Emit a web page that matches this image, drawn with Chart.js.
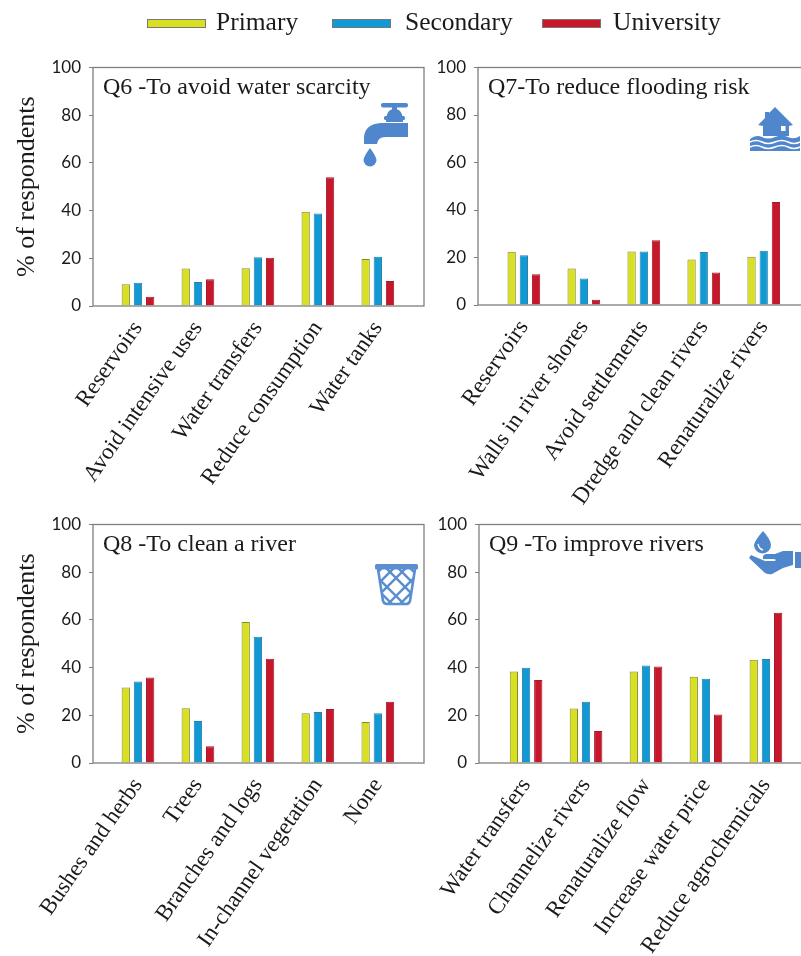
<!DOCTYPE html>
<html>
<head>
<meta charset="utf-8">
<title>Survey responses</title>
<script src="https://cdn.jsdelivr.net/npm/chart.js@4"></script>
<style>
    html, body { margin: 0; padding: 0; background: #fff; width: 801px; height: 956px; overflow: hidden; }
    canvas { position: absolute; }
    #icons { position: absolute; left: 0; top: 0; }
    .legend-swatch { position: absolute; top: 19px; width: 57px; height: 7px; box-sizing: content-box; border: 0.5px solid #777; }
    .legend-text { position: absolute; top: 7px; font: 25.5px "Liberation Serif", serif; color: #1a1a1a; line-height: 30px; white-space: nowrap; }
</style>
</head>
<body>
<canvas id="q6"></canvas>
<canvas id="q7"></canvas>
<canvas id="q8"></canvas>
<canvas id="q9"></canvas>

<svg id="icons" width="801" height="956" viewBox="0 0 801 956">
    <g fill="#4f86cc">
        <!-- tap -->
        <rect x="381" y="103" width="27" height="4.5" rx="2"/>
        <rect x="392" y="103" width="5" height="9"/>
        <path d="M386 122 Q386 109 394.500 109 Q403 109 403 122 Z"/>
        <rect x="384" y="116" width="21" height="4" rx="1.500"/>
        <path d="M408 123 L408 137 L386 137 Q378 137 377 144 L364 144 L364 137 Q365 124 381 123 Z"/>
        <path d="M370 148 Q376 156 376.500 160 A6.500 6.500 0 0 1 363.500 160 Q364 156 370 148 Z"/>
        <!-- flooded house -->
        <path d="M775 107 L793 125 L789 126 L789 136 L763 136 L763 126 L758 125 L765 118 L765 112 L769 112 L769 113 Z"/>
        <path d="M750 139 Q756 134 762 137 T775 137 T788 137 T800 136 L800 151 L750 151 Z"/>
    </g>
    <g fill="none" stroke="#fff" stroke-width="1.400">
        <path d="M750 142 Q756 139 762 142 T775 142 T788 142 T800 142"/>
        <path d="M750 147 Q756 144 762 147 T775 147 T788 147 T800 147"/>
    </g>
    <g fill="#4f86cc">
        <!-- hand with drop -->
        <path d="M763 531 Q771 540 771 545 A8.500 8.500 0 0 1 754 545 Q755 540 763 531 Z"/>
        <path d="M749 558 L751 555 L765 561 L775 561 Q777 559 773 559 L763 559 Q762 555 766 554 L775 554 L783 551 L793 551 L793 565 L783 568 L772 574 Q769 575 765 573 Z"/>
        <rect x="795" y="552" width="6" height="16"/>
    </g>
    <rect x="781" y="126" width="4.500" height="5" fill="#fff"/>
    <path d="M758 544 Q759 549 763 550" fill="none" stroke="#fff" stroke-width="1.300"/>
    <!-- waste basket -->
    <clipPath id="binClip"><path d="M378 569 L415 569 L410 603 L383 603 Z"/></clipPath>
    <rect x="375" y="564" width="43" height="5.500" rx="1.500" fill="#5b8fd0"/>
    <g fill="none" stroke="#5b8fd0">
        <path d="M378 569 L383 601 Q384 604 387 604 L406 604 Q409 604 410 601 L415 569" stroke-width="2.600"/>
        <g clip-path="url(#binClip)" stroke-width="2.400">
            <path d="M372 578 L384 566 M372 590 L396 566 M376 598 L408 566 M386 606 L420 572 M398 606 L420 584"/>
            <path d="M420 578 L408 566 M420 590 L396 566 M416 598 L384 566 M406 606 L372 572 M394 606 L372 584"/>
        </g>
    </g>
</svg>

<script>
// series shared by all panels
const seriesNames = ['Primary', 'Secondary', 'University'];
const seriesColors = ['#d8e021', '#0f9ad6', '#c8172b'];
const seriesBorders = ['#7f8a2a', '#2c7fa6', '#a01c2c'];
const yTicks = [0, 20, 40, 60, 80, 100];

const q6Labels = ['Reservoirs', 'Avoid intensive uses', 'Water transfers', 'Reduce consumption', 'Water tanks'];
const q6Primary = [9.1, 15.7, 15.8, 39.5, 19.7];
const q6Secondary = [9.8, 10.1, 20.4, 38.8, 20.7];
const q6University = [3.9, 11.2, 20.2, 54, 10.5];

const q7Labels = ['Reservoirs', 'Walls in river shores', 'Avoid settlements', 'Dredge and clean rivers', 'Renaturalize rivers'];
const q7Primary = [22.4, 15.4, 22.5, 19.2, 20.3];
const q7Secondary = [20.9, 11.2, 22.5, 22.3, 22.8];
const q7University = [12.9, 2.2, 27.3, 13.7, 43.4];

const q8Labels = ['Bushes and herbs', 'Trees', 'Branches and logs', 'In-channel vegetation', 'None'];
const q8Primary = [31.7, 23, 59.1, 20.9, 17.2];
const q8Secondary = [34.2, 17.6, 52.9, 21.4, 20.9];
const q8University = [35.9, 7, 43.7, 22.6, 25.7];

const q9Labels = ['Water transfers', 'Channelize rivers', 'Renaturalize flow', 'Increase water price', 'Reduce agrochemicals'];
const q9Primary = [38.4, 22.9, 38.4, 36.2, 43.3];
const q9Secondary = [39.9, 25.7, 40.9, 35.3, 43.6];
const q9University = [34.8, 13.4, 40.5, 20.3, 63];

const SERIF = '"Liberation Serif", serif';

// frame around the plot and the panel heading inside it
const panelDecor = {
    id: 'panelDecor',
    afterDraw(chart, args, opts) {
        const { ctx, chartArea } = chart;
        ctx.save();
        ctx.strokeStyle = '#7f7f7f';
        ctx.lineWidth = 1.3;
        ctx.strokeRect(chartArea.left, chartArea.top, chartArea.right - chartArea.left, chartArea.bottom - chartArea.top);
        ctx.fillStyle = '#1a1a1a';
        ctx.font = '24px ' + SERIF;
        ctx.textBaseline = 'alphabetic';
        ctx.fillText(opts.heading, chartArea.left + 10, chartArea.top + 26);
        ctx.restore();
    }
};

function createPanel(id, left, top, height, axisHeight, xMin, heading, labels, primary, secondary, university, showTitle) {
    const canvas = document.getElementById(id);
    canvas.style.left = left + 'px';
    canvas.style.top = top + 'px';
    canvas.width = 431;
    canvas.height = height;

    const values = [primary, secondary, university];

    new Chart(canvas, {
        type: 'bar',
        data: {
            datasets: seriesNames.map((name, s) => ({
                label: name,
                data: values[s].map((v, i) => ({ x: i, y: v })),
                backgroundColor: seriesColors[s],
                borderColor: seriesBorders[s],
                borderWidth: 1,
                categoryPercentage: 0.61,
                barPercentage: 0.68
            }))
        },
        options: {
            responsive: false,
            animation: false,
            layout: { padding: { top: 27.5, right: 7 } },
            plugins: {
                legend: { display: false },
                tooltip: { enabled: false },
                panelDecor: { heading: heading }
            },
            scales: {
                x: {
                    type: 'linear',
                    offset: false,
                    min: xMin,
                    max: xMin + 5.52,
                    afterBuildTicks: (scale) => {
                        scale.ticks = labels.map((_, i) => ({ value: i }));
                    },
                    afterFit: (scale) => { scale.height = axisHeight; },
                    grid: { display: false },
                    border: { display: false },
                    ticks: {
                        autoSkip: false,
                        minRotation: 55,
                        maxRotation: 55,
                        padding: 2,
                        color: '#1a1a1a',
                        font: { family: SERIF, size: 23 },
                        callback: (value) => labels[value]
                    }
                },
                y: {
                    min: 0,
                    max: 100,
                    afterBuildTicks: (scale) => {
                        scale.ticks = yTicks.map((v) => ({ value: v }));
                    },
                    afterFit: (scale) => { scale.width = 93; },
                    grid: { drawOnChartArea: false, color: '#7f7f7f', tickLength: 4 },
                    border: { display: false },
                    ticks: {
                        padding: 8,
                        color: '#1a1a1a',
                        font: { family: 'Lato', size: 17 }
                    },
                    title: {
                        display: showTitle,
                        text: '% of respondents',
                        color: '#1a1a1a',
                        padding: { top: 12, bottom: 0 },
                        font: { family: SERIF, size: 26 }
                    }
                }
            }
        },
        plugins: [panelDecor]
    });
}

function buildLegend() {
    const swatchLeft = [147, 332, 542];
    const textLeft = [216, 405, 613];
    seriesNames.forEach((name, s) => {
        const swatch = document.createElement('div');
        swatch.className = 'legend-swatch';
        swatch.style.left = swatchLeft[s] + 'px';
        swatch.style.background = seriesColors[s];
        document.body.appendChild(swatch);

        const text = document.createElement('div');
        text.className = 'legend-text';
        text.style.left = textLeft[s] + 'px';
        text.textContent = name;
        document.body.appendChild(text);
    });
}

buildLegend();
createPanel('q6', 0, 40, 470, 204, -0.75, 'Q6 -To avoid water scarcity', q6Labels, q6Primary, q6Secondary, q6University, true);
createPanel('q7', 385, 40, 470, 205, -0.765, 'Q7-To reduce flooding risk', q7Labels, q7Primary, q7Secondary, q7University, false);
createPanel('q8', 0, 497, 459, 193, -0.75, 'Q8 -To clean a river', q8Labels, q8Primary, q8Secondary, q8University, true);
createPanel('q9', 386, 497, 459, 193, -0.785, 'Q9 -To improve rivers', q9Labels, q9Primary, q9Secondary, q9University, false);
</script>
</body>
</html>
